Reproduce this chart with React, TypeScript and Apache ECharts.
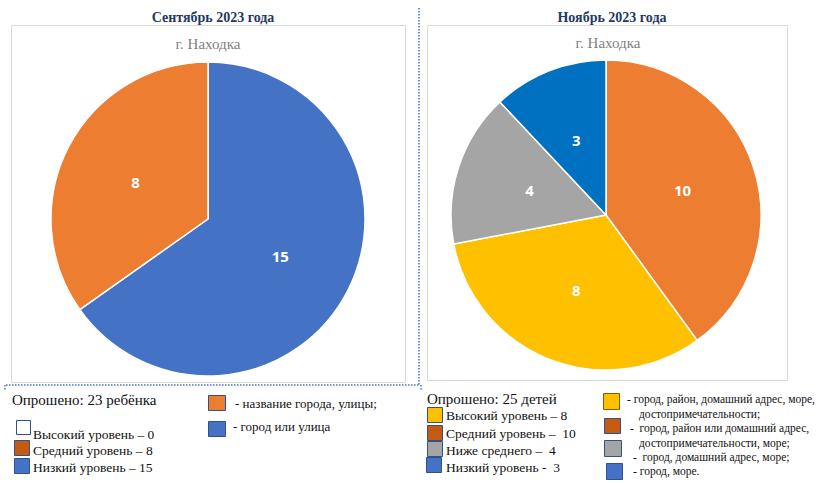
import React, { useEffect, useRef } from "react";
import * as echarts from "echarts";

const septCategories = ["город или улица", "название города, улицы"];
const septValues = [15, 8];
const septColors = ["#4472C4", "#ED7D31"];

const novCategories = [
  "город, район или домашний адрес, достопримечательности, море",
  "город, район, домашний адрес, море, достопримечательности",
  "город, домашний адрес, море",
  "город, море",
];
const novValues = [10, 8, 4, 3];
const novColors = ["#ED7D31", "#FFC000", "#A5A5A5", "#0070C0"];

const septLevels = ["Высокий уровень – 0", "Средний уровень – 8", "Низкий уровень – 15"];
const novLevels = ["Высокий уровень – 8", "Средний уровень –  10", "Ниже среднего –  4", "Низкий уровень -  3"];

const SERIF = "'Liberation Serif', 'Times New Roman', serif";
const SANS = "'Open Sans', 'Liberation Sans', sans-serif";

export default function App() {
  const ref = useRef<HTMLDivElement>(null);
  useEffect(() => {
    document.body.style.margin = "0";
    const chart = echarts.init(ref.current!, null, { renderer: "svg" });

    const txt = (x: number, y: number, t: string, size: number, extra: any = {}) => ({
      type: "text",
      x,
      y,
      style: { text: t, font: `${size}px ${SERIF}`, fill: "#111", textVerticalAlign: "middle", ...extra },
    });
    const sq = (x: number, y: number, fill: string, stroke: string, w = 15, h = 15) => ({
      type: "rect",
      shape: { x, y, width: w, height: h },
      style: { fill, stroke, lineWidth: 1 },
    });
    const dash = (x1: number, y1: number, x2: number, y2: number) => ({
      type: "line",
      shape: { x1, y1, x2, y2 },
      style: { stroke: "#4472C4", lineWidth: 1.5, lineDash: [1.5, 1.5] },
    });

    const graphics: any[] = [
      // frames
      { type: "rect", shape: { x: 11.5, y: 25.5, width: 394, height: 357 }, style: { fill: "none", stroke: "#D9D9D9", lineWidth: 1 }, z: -1 },
      { type: "rect", shape: { x: 427.5, y: 25.5, width: 360, height: 355 }, style: { fill: "none", stroke: "#D9D9D9", lineWidth: 1 }, z: -1 },
      // dotted separators
      dash(419, 8, 419, 386),
      dash(6, 385, 419, 385),
      dash(5, 385, 5, 391),
      dash(421, 385, 421, 391),
      // titles
      txt(213, 17, "Сентябрь 2023 года", 14, { font: `bold 14px ${SERIF}`, fill: "#1F3864", textAlign: "center" }),
      txt(612, 17, "Ноябрь 2023 года", 14, { font: `bold 14px ${SERIF}`, fill: "#1F3864", textAlign: "center" }),
      txt(208, 44, "г. Находка", 15, { fill: "#7F7F7F", textAlign: "center" }),
      txt(608, 43, "г. Находка", 15, { fill: "#7F7F7F", textAlign: "center" }),
      // left legend
      txt(12, 400, "Опрошено: 23 ребёнка", 15),
      sq(16.5, 420.5, "#FFFFFF", "#2F528F", 14, 14),
      txt(33, 434, septLevels[0], 13.5),
      sq(14.5, 440.5, "#C55A11", "#2F528F"),
      txt(33, 450, septLevels[1], 13.5),
      sq(14.5, 458.5, "#4472C4", "#2F528F"),
      txt(33, 467, septLevels[2], 13.5),
      sq(208.5, 395.5, "#ED7D31", "#2F528F", 17, 15),
      txt(235, 403, "- " + septCategories[1] + ";", 13),
      sq(208.5, 421.5, "#4472C4", "#2F528F", 17, 15),
      txt(233, 426, "- " + septCategories[0], 13),
      // right legend
      txt(427, 399, "Опрошено: 25 детей", 15),
      sq(427.5, 407.5, "#FFC000", "#2F528F"),
      txt(446, 415, novLevels[0], 13.5),
      sq(427.5, 425.5, "#C55A11", "#2F528F"),
      txt(446, 433, novLevels[1], 13.5),
      sq(427.5, 441.5, "#A5A5A5", "#2F528F"),
      txt(446, 450, novLevels[2], 13.5),
      sq(426.5, 457.5, "#4472C4", "#2F528F"),
      txt(446, 467, novLevels[3], 13.5),
      sq(603.5, 393.5, "#FFC000", "#7F6000", 16, 16),
      txt(627, 399, "- город, район, домашний адрес, море,", 11.5),
      txt(639, 414, "достопримечательности;", 11.5),
      sq(604.5, 418.5, "#C55A11", "#2F528F", 16, 15),
      txt(630, 428, "-  город, район или домашний адрес,", 11.5),
      txt(639, 443, "достопримечательности, море;", 11.5),
      sq(604.5, 440.5, "#A5A5A5", "#2F528F", 17, 16),
      txt(633, 457, "-  город, домашний адрес, море;", 11.5),
      sq(606.5, 463.5, "#4472C4", "#2F528F", 16, 16),
      txt(633, 471, "- город, море.", 11.5),
    ];

    const labelStyle = {
      show: true,
      position: "inside",
      formatter: "{c}",
      color: "#FFFFFF",
      fontFamily: SANS,
      fontWeight: "bold",
      fontSize: 15,
    };

    chart.setOption({
      animation: false,
      series: [
        {
          type: "pie",
          center: [208, 219],
          radius: [0, 157],
          startAngle: 90,
          clockwise: true,
          label: labelStyle,
          labelLine: { show: false },
          itemStyle: { borderColor: "#FFFFFF", borderWidth: 1.5 },
          emphasis: { disabled: true },
          data: septValues.map((v, i) => ({ value: v, name: septCategories[i], itemStyle: { color: septColors[i] } })),
        },
        {
          type: "pie",
          center: [606, 215],
          radius: [0, 155],
          startAngle: 90,
          clockwise: true,
          label: labelStyle,
          labelLine: { show: false },
          itemStyle: { borderColor: "#FFFFFF", borderWidth: 1.5 },
          emphasis: { disabled: true },
          data: novValues.map((v, i) => ({ value: v, name: novCategories[i], itemStyle: { color: novColors[i] } })),
        },
      ],
      graphic: graphics,
    });
    return () => chart.dispose();
  }, []);
  return <div ref={ref} style={{ position: "absolute", left: 0, top: 0, width: 822, height: 483, background: "#fff" }} />;
}
